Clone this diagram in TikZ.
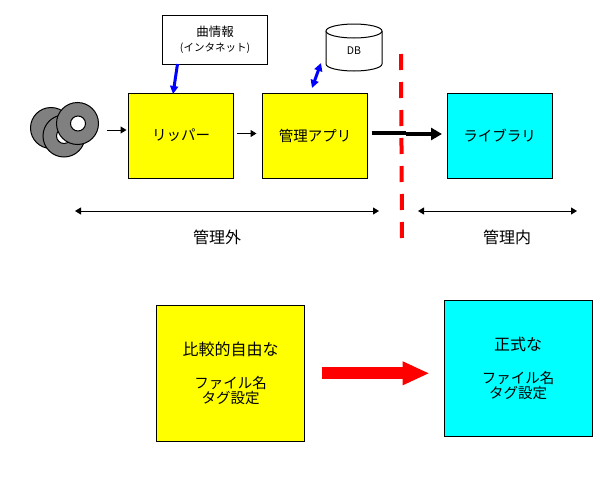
\documentclass[tikz,border=0pt]{standalone}
\usepackage{fontspec}
\setmainfont{Noto Sans CJK JP}
\usetikzlibrary{arrows.meta,calc}

\definecolor{boxyellow}{RGB}{255,255,0}
\definecolor{boxcyan}{RGB}{0,255,255}
\definecolor{linered}{RGB}{255,0,0}
\definecolor{lineblue}{RGB}{0,0,255}
\definecolor{discgray}{RGB}{128,128,128}

\tikzset{
  boxbase/.style={draw, line width=1pt, inner sep=0pt, align=center, font=\fontsize{14.5}{15}\selectfont},
  yellowbox/.style={boxbase, fill=boxyellow},
  cyanbox/.style={boxbase, fill=boxcyan},
  discbody/.style={draw, line width=1pt, fill=discgray},
  dischole/.style={draw, line width=1pt, fill=white},
  thinarrow/.style={line width=1pt, -{Triangle[length=6pt,width=7pt]}},
  spanarrow/.style={line width=1pt, {Triangle[length=6pt,width=7pt]}-{Triangle[length=6pt,width=7pt]}},
  bluearrow/.style={line width=3pt, lineblue},
  biglabel/.style={font=\fontsize{16}{16}\selectfont, inner sep=0pt}
}

\newcommand{\bigline}{\fontsize{16}{15}\selectfont}
\newcommand{\infoline}{\fontsize{12.5}{12.5}\selectfont}
\newcommand{\kanaline}{\fontsize{10.5}{12.5}\selectfont}

\begin{document}
\begin{tikzpicture}[x=1pt,y=-1pt]
  \useasboundingbox (0,0) rectangle (614,490);

  % discs
  \draw[discbody] (51,128) circle (20.5);
  \draw[discbody] (64,136) circle (21);
  \draw[dischole] (64,136) circle (7.5);
  \draw[discbody] (77.5,123.5) circle (21);
  \draw[dischole] (78,123.5) circle (7.5);

  % upper row
  \node[boxbase, minimum width=105pt, minimum height=49pt] (info) at (215,39.5) {{\infoline 曲情報}\\{\kanaline (インタネット)}};
  \node[yellowbox, minimum width=105pt, minimum height=85pt] (ripper) at (181,135.5) {\raisebox{-1.5pt}{リッパー}};
  \node[yellowbox, minimum width=105pt, minimum height=85pt] (manager) at (315,135.5) {\raisebox{-1.5pt}{管理アプリ}};
  \node[cyanbox, minimum width=105pt, minimum height=85pt] (library) at (499.5,135.5) {\raisebox{-1.5pt}{ライブラリ}};

  % database
  \draw[line width=1pt, fill=white] (326,31) -- (326,64) arc[start angle=180, end angle=360, x radius=28pt, y radius=7pt] -- (382,31);
  \draw[line width=1pt, fill=white] (354,31) ellipse[x radius=28pt, y radius=7pt];
  \node[inner sep=0pt, font=\fontsize{10.5}{12}\selectfont] (db) at (354,51) {DB};

  \coordinate (discout) at (107,130);
  \coordinate (infoout) at (177.5,64);
  \coordinate (ripperin) at (173,94);
  \coordinate (managerout) at (312,88);
  \coordinate (dbin) at (321,63);
  \coordinate (crossing) at (406,133);
  \coordinate (crossing2) at (406,134);

  \draw[thinarrow, shorten >=1.5pt] (discout) -- (discout -| ripper.west);
  \draw[thinarrow, shorten <=3pt, shorten >=5.5pt] ($(ripper.east)+(0,-2)$) -- ($(manager.west)+(0,-2)$);
  \draw[bluearrow, -{Triangle[length=8pt,width=8pt]}] (infoout) -- (ripperin);
  \draw[bluearrow, {Triangle[length=8pt,width=8pt]}-{Triangle[length=8pt,width=8pt]}] (managerout) -- (dbin);
  \draw[line width=4pt, shorten <=3.5pt] ($(manager.east)+(0,-2.5)$) -- (crossing);
  \draw[line width=4pt, -{Triangle[length=11pt,width=12pt]}, shorten >=4.5pt] (crossing2) -- (crossing2 -| library.west);

  % boundary
  \coordinate (linetop) at (401,54);
  \coordinate (linebottom) at (402,238);
  \draw[linered, line width=4pt, dash pattern=on 16pt off 12pt] (linetop) -- (linebottom);

  % ranges
  \coordinate (outleft) at (75,211);
  \coordinate (outright) at (379,211);
  \coordinate (inleft) at (418,211);
  \coordinate (inright) at (577,211);
  \draw[spanarrow] (outleft) -- (outright);
  \draw[spanarrow] (inleft) -- (inright);
  \node[biglabel] (outlabel) at (217,237) {管理外};
  \node[biglabel] (inlabel) at (507,237) {管理内};

  % lower row
  \node[yellowbox, minimum width=148pt, minimum height=136pt] (freebox) at (230.5,373.3) {{\bigline 比較的自由な}\\[18pt]ファイル名\\タグ設定};
  \node[cyanbox, minimum width=148pt, minimum height=136pt] (formalbox) at (518,368.2) {{\bigline 正式な}\\[18pt]ファイル名\\タグ設定};
  \draw[linered, line width=12pt, -{Triangle[length=27pt,width=22pt]}, shorten <=16.5pt, shorten >=14pt] (freebox.east) -- (freebox.east -| formalbox.west);
\end{tikzpicture}
\end{document}
